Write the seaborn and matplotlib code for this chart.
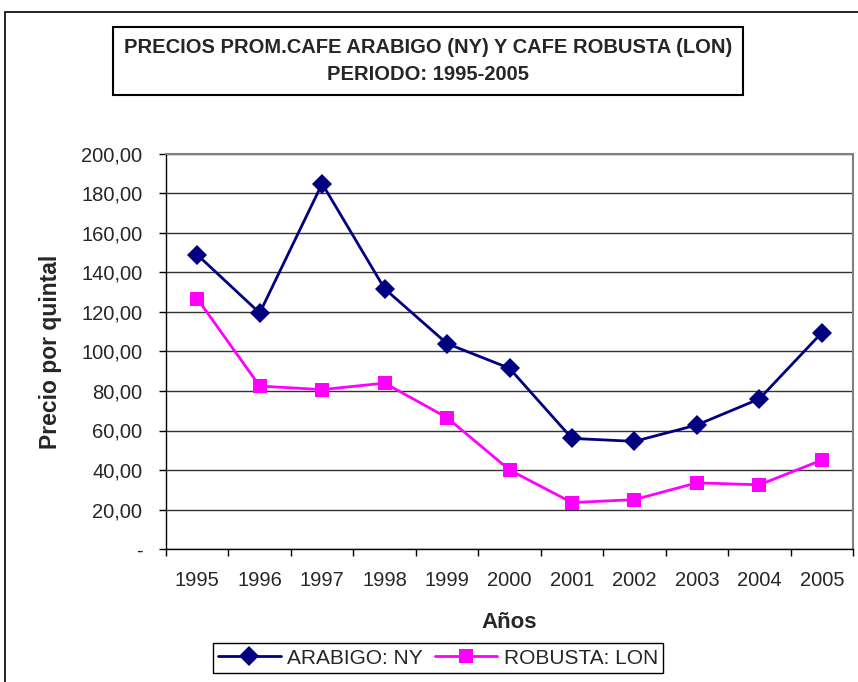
import pandas as pd
import seaborn as sns
from matplotlib import pyplot as plt
from matplotlib.patches import Rectangle
from matplotlib.ticker import FixedLocator, FuncFormatter

years = ['1995', '1996', '1997', '1998', '1999', '2000', '2001', '2002', '2003', '2004', '2005']
arabigo = [149.0, 119.5, 185.0, 131.8, 104.0, 91.5, 56.0, 54.5, 62.8, 76.0, 109.5]
robusta = [126.8, 82.5, 80.7, 84.0, 66.5, 40.0, 23.5, 25.0, 33.5, 32.5, 45.0]
series_names = ['ARABIGO: NY', 'ROBUSTA: LON']

df = pd.DataFrame({'year': years, series_names[0]: arabigo, series_names[1]: robusta})
df['pos'] = range(len(years))
long = df.melt(id_vars=['year', 'pos'], var_name='serie', value_name='precio')

sns.set_style('white')
plt.rcParams['font.family'] = ['Liberation Sans', 'DejaVu Sans']

fig = plt.figure(figsize=(8.58, 6.82), dpi=100)
ax = fig.add_axes([166 / 858, 1 - 549 / 682, (853 - 166) / 858, (549 - 154) / 682])

sns.lineplot(data=long, x='pos', y='precio', hue='serie', style='serie',
             palette=['#000080', '#FF00FF'], markers=['D', 's'], dashes=False,
             markersize=10.5, linewidth=2, markeredgewidth=0, ax=ax, legend=False)

ax.set_xlim(-0.5, len(years) - 0.5)
ax.set_ylim(0, 200)
ax.set_yticks(range(0, 201, 20))
ax.yaxis.set_major_formatter(FuncFormatter(lambda v, p: '-' if v == 0 else f'{v:.2f}'.replace('.', ',')))
ax.xaxis.set_major_locator(FixedLocator([i - 0.5 for i in range(len(years) + 1)]))
ax.xaxis.set_minor_locator(FixedLocator(list(range(len(years)))))
ax.xaxis.set_major_formatter(FuncFormatter(lambda v, p: ''))
ax.set_xticks(range(len(years)), labels=years, minor=True)
ax.tick_params(axis='x', which='minor', length=0, labelsize=14.5, pad=16)
ax.tick_params(axis='x', which='major', direction='out', length=5, width=1, color='black', bottom=True)
ax.tick_params(axis='y', direction='out', length=5, width=1, color='black', left=True, labelsize=14.5, pad=12)

ax.grid(axis='y', color='#333333', linewidth=1)
ax.set_axisbelow(True)
for side in ['top', 'right']:
    ax.spines[side].set_color('#808080')
    ax.spines[side].set_linewidth(1.5)
for side in ['left', 'bottom']:
    ax.spines[side].set_color('black')
    ax.spines[side].set_linewidth(1)

ax.set_xlabel('Años', fontsize=16, fontweight='bold', labelpad=16)
ax.set_ylabel('Precio por quintal', fontsize=16.5, fontweight='bold', labelpad=14)

# chart frame
fig.patches.append(Rectangle((5 / 858, -0.1), 1.2, 1 - 12 / 682 + 0.1, transform=fig.transFigure,
                             fill=False, edgecolor='black', linewidth=1.2))

fig.text(428 / 858, 1 - 61 / 682,
         'PRECIOS PROM.CAFE ARABIGO (NY) Y CAFE ROBUSTA (LON)\nPERIODO: 1995-2005',
         ha='center', va='center', fontsize=14.5, fontweight='bold', linespacing=1.55,
         bbox=dict(boxstyle='square,pad=0.55', facecolor='white', edgecolor='black', linewidth=1.5))

handles = [plt.Line2D([], [], color='#000080', marker='D', markersize=10.5, linewidth=2, markeredgewidth=0),
           plt.Line2D([], [], color='#FF00FF', marker='s', markersize=10.5, linewidth=2, markeredgewidth=0)]
fig.legend(handles, series_names, loc='center', bbox_to_anchor=(438 / 858, 1 - 658 / 682), ncol=2,
           fontsize=15, frameon=True, fancybox=False, edgecolor='black', framealpha=1,
           handlelength=3, columnspacing=0.6, handletextpad=0.3, borderpad=0.25)

fig.savefig('out.png', dpi=100)
